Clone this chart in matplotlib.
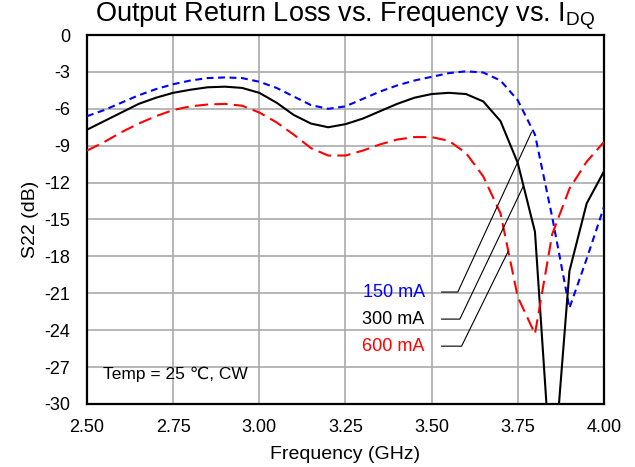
import numpy as np
import matplotlib
matplotlib.use("Agg")
from matplotlib import pyplot as plt

plt.rcParams['font.family'] = ['Liberation Sans', 'DejaVu Sans']
plt.rcParams['axes.unicode_minus'] = False

freq = np.round(np.arange(2.50, 4.001, 0.05), 2)

s22_150 = [-6.6, -6.1, -5.5, -4.9, -4.4, -4.0, -3.7, -3.5, -3.45, -3.5,
           -3.8, -4.3, -5.0, -5.7, -6.0, -5.8, -5.2, -4.6, -4.1, -3.7,
           -3.4, -3.1, -2.95, -3.05, -3.7, -5.3, -8.1, -14.8, -22.2, -18.2,
           -14.0]
s22_300 = [-7.7, -7.0, -6.3, -5.6, -5.1, -4.7, -4.45, -4.25, -4.2, -4.3,
           -4.7, -5.5, -6.5, -7.2, -7.5, -7.25, -6.8, -6.2, -5.6, -5.1,
           -4.8, -4.7, -4.8, -5.4, -7.0, -10.4, -16.0, -37.0, -19.2, -13.7,
           -11.1]
s22_600 = [-9.4, -8.7, -7.9, -7.2, -6.6, -6.1, -5.8, -5.65, -5.6, -5.75,
           -6.3, -7.1, -8.1, -9.2, -9.8, -9.8, -9.4, -8.9, -8.5, -8.3,
           -8.3, -8.6, -9.6, -11.5, -14.5, -21.3, -24.3, -16.2, -12.5, -10.3,
           -8.7]

labels = ["150 mA", "300 mA", "600 mA"]
colors = ["blue", "black", "red"]
label_y = [-20.9, -23.1, -25.3]
# where each leader line meets its curve
leader_end = [(3.79, -7.9), (3.766, -12.3), (3.722, -17.6)]
leader_knee = [3.576, 3.582, 3.587]

xticks = [2.50, 2.75, 3.00, 3.25, 3.50, 3.75, 4.00]
yticks = list(range(0, -31, -3))

fig = plt.figure(figsize=(6.35, 4.67), dpi=100)
ax = fig.add_axes([0.137, 0.135, 0.814, 0.79])

ax.plot(freq, s22_150, color="blue", lw=1.5, dashes=(3.3, 2.2), zorder=3)
ax.plot(freq, s22_300, color="black", lw=1.5, zorder=3)
ax.plot(freq, s22_600, color="red", lw=1.5, dashes=(6.4, 3.0), zorder=3)

ax.set_xlim(2.5, 4.0)
ax.set_ylim(-30, 0)
ax.set_xticks(xticks)
ax.set_xticklabels([f"{t:.2f}" for t in xticks])
ax.set_yticks(yticks)
ax.tick_params(length=0, labelsize=13)
ax.tick_params(axis="x", pad=11)
ax.tick_params(axis="y", pad=12)
ax.grid(True, color="#aaaaaa", lw=1.2, zorder=0)
for sp in ax.spines.values():
    sp.set_linewidth(1.6)

ax.set_xlabel("Frequency (GHz)", fontsize=14, labelpad=7)
ax.set_ylabel("S22 (dB)", fontsize=14, labelpad=4)
ax.set_title(r"Output Return Loss vs. Frequency vs. I$_\mathregular{DQ}$",
             fontsize=19.5, pad=10)

# white box behind the labels
ax.fill_between([3.286, 3.515], -26.4, -19.8, color="white", zorder=1.5, lw=0)
for lab, c, y, (xe, ye), xk in zip(labels, colors, label_y, leader_end, leader_knee):
    ax.text(3.48, y, lab, color=c, fontsize=13, ha="right", va="center", zorder=4)
    ax.plot([3.529, xk, xe], [y, y, ye], color="black", lw=0.8, zorder=4)

ax.fill_between([2.523, 3.007], -28.9, -26.4, color="white", zorder=1.5, lw=0)
ax.text(2.545, -27.6, "Temp = 25 ℃, CW", fontsize=12.5, ha="left", va="center", zorder=4)

fig.savefig("out.png", dpi=100)
